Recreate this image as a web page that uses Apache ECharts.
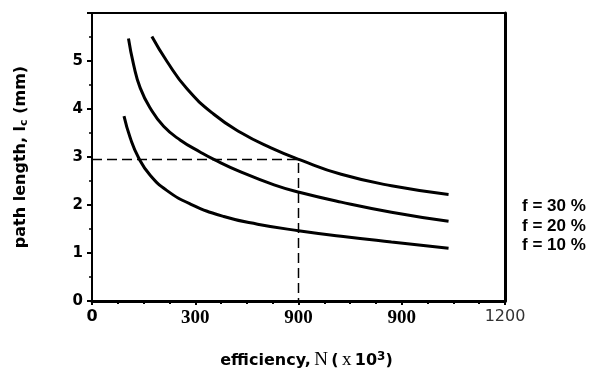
<!DOCTYPE html>
<html>
<head>
<meta charset="utf-8">
<script src="https://cdn.jsdelivr.net/npm/echarts@6/dist/echarts.min.js"></script>
<style>
  html, body { margin: 0; padding: 0; background: #fff; }
  #chart { width: 589px; height: 381px; }
</style>
</head>
<body>
<div id="chart"></div>
<script>
// curves (N in units of 10^3, path length in mm)
var n10 = [93, 111, 135, 169, 218, 286, 383, 481, 605, 724, 870, 1036];
var path10 = [3.85, 3.40, 2.99, 2.62, 2.30, 2.02, 1.76, 1.60, 1.46, 1.35, 1.23, 1.10];
var n20 = [106, 121, 140, 169, 208, 257, 315, 354, 432, 529, 605, 724, 870, 1036];
var path20 = [5.47, 4.92, 4.44, 4.02, 3.64, 3.35, 3.10, 2.95, 2.69, 2.42, 2.26, 2.06, 1.85, 1.66];
var n30 = [174, 218, 276, 354, 432, 520, 605, 724, 870, 1036];
var path30 = [5.51, 4.99, 4.42, 3.89, 3.51, 3.19, 2.94, 2.64, 2.40, 2.22];
// dashed reading guide
var guideN = [0, 600, 600];
var guideL = [2.95, 2.95, 0];
// tick labels as printed (yes, two of them say 900)
var xTickLabels = ['0', '300', '900', '900', '1200'];
var xTickStyles = ['s', 'r', 'r', 'r', 'l'];
var yTickLabels = ['0', '1', '2', '3', '4', '5'];
var curveNames = ['f = 10 %', 'f = 20 %', 'f = 30 %'];

function pairs(xs, ys) {
  return xs.map(function (x, i) { return [x, ys[i]]; });
}

var chart = echarts.init(document.getElementById('chart'));

function curve(name, xs, ys) {
  return {
    name: name,
    type: 'line',
    smooth: 0.5,
    showSymbol: false,
    data: pairs(xs, ys),
    lineStyle: { color: '#000', width: 3 },
    silent: true
  };
}

var option = {
  animation: false,
  backgroundColor: '#fff',
  grid: { left: 92, right: 84, top: 13, bottom: 80 },
  xAxis: [{
    type: 'value',
    min: 0,
    max: 1200,
    interval: 300,
    name: '{b|efficiency,} {n|N} {b|(} {n|x} {b|10}{sup|3}{b|)}',
    nameLocation: 'middle',
    nameGap: 50,
    nameTextStyle: {
      padding: [0, 0, 0, 16],
      rich: {
        b: { fontFamily: 'DejaVu Sans', fontWeight: 'bold', fontSize: 16, color: '#000' },
        n: { fontFamily: 'Liberation Serif', fontSize: 19, color: '#000' },
        sup: { fontFamily: 'DejaVu Sans', fontWeight: 'bold', fontSize: 12, color: '#000', verticalAlign: 'top', padding: [0, 0, 7, 0] }
      }
    },
    axisLine: { show: true, onZero: false, lineStyle: { color: '#000', width: 3 } },
    axisTick: { show: true, length: 4, lineStyle: { color: '#000', width: 2 } },
    minorTick: { show: true, splitNumber: 4, length: 3, lineStyle: { color: '#000', width: 2 } },
    splitLine: { show: false },
    axisLabel: {
      margin: 8,
      formatter: function (v) {
        var i = Math.round(v / 300);
        return '{' + xTickStyles[i] + '|' + xTickLabels[i] + '}';
      },
      rich: {
        s: { fontFamily: 'DejaVu Sans', fontWeight: 'bold', fontSize: 16, color: '#000' },
        r: { fontFamily: 'Liberation Serif', fontWeight: 'bold', fontSize: 19, color: '#000' },
        l: { fontFamily: 'DejaVu Sans', fontWeight: 'normal', fontSize: 16, color: '#333' }
      }
    }
  }, {
    type: 'value',
    position: 'top',
    min: 0,
    max: 1200,
    axisLine: { show: true, onZero: false, lineStyle: { color: '#000', width: 2 } },
    axisTick: { show: false },
    axisLabel: { show: false },
    splitLine: { show: false }
  }],
  yAxis: [{
    type: 'value',
    min: 0,
    max: 6,
    interval: 1,
    name: '{t|path length, l}{s|c}{t| (mm)}',
    nameLocation: 'middle',
    nameGap: 62,
    nameRotate: 90,
    nameTextStyle: {
      rich: {
        t: { fontFamily: 'DejaVu Sans', fontWeight: 'bold', fontSize: 16, color: '#000' },
        s: { fontFamily: 'DejaVu Sans', fontWeight: 'bold', fontSize: 11, color: '#000', verticalAlign: 'bottom', padding: [7, 0, 0, 0] }
      }
    },
    axisLine: { show: true, onZero: false, lineStyle: { color: '#000', width: 2 } },
    axisTick: { show: true, length: 5, lineStyle: { color: '#000', width: 2 } },
    minorTick: { show: true, splitNumber: 2, length: 3, lineStyle: { color: '#000', width: 1.5 } },
    splitLine: { show: false },
    axisLabel: {
      margin: 9,
      showMaxLabel: false,
      fontFamily: 'DejaVu Sans',
      fontWeight: 'bold',
      fontSize: 15,
      color: '#000',
      formatter: function (v) { return yTickLabels[v] || ''; }
    }
  }, {
    type: 'value',
    position: 'right',
    min: 0,
    max: 6,
    axisLine: { show: true, onZero: false, lineStyle: { color: '#000', width: 3 } },
    axisTick: { show: false },
    axisLabel: { show: false },
    splitLine: { show: false }
  }],
  graphic: [{
    type: 'text',
    left: 522,
    top: 197,
    style: {
      text: curveNames.slice().reverse().join('\n'),
      fontFamily: 'Liberation Sans',
      fontWeight: 'bold',
      fontSize: 17,
      lineHeight: 19.5,
      fill: '#000'
    }
  }],
  series: [
    curve(curveNames[0], n10, path10),
    curve(curveNames[1], n20, path20),
    curve(curveNames[2], n30, path30),
    {
      name: 'guide',
      type: 'line',
      showSymbol: false,
      silent: true,
      data: pairs(guideN, guideL),
      lineStyle: { color: '#000', width: 1.5, type: [10, 5] }
    }
  ]
};

chart.setOption(option);
</script>
</body>
</html>
